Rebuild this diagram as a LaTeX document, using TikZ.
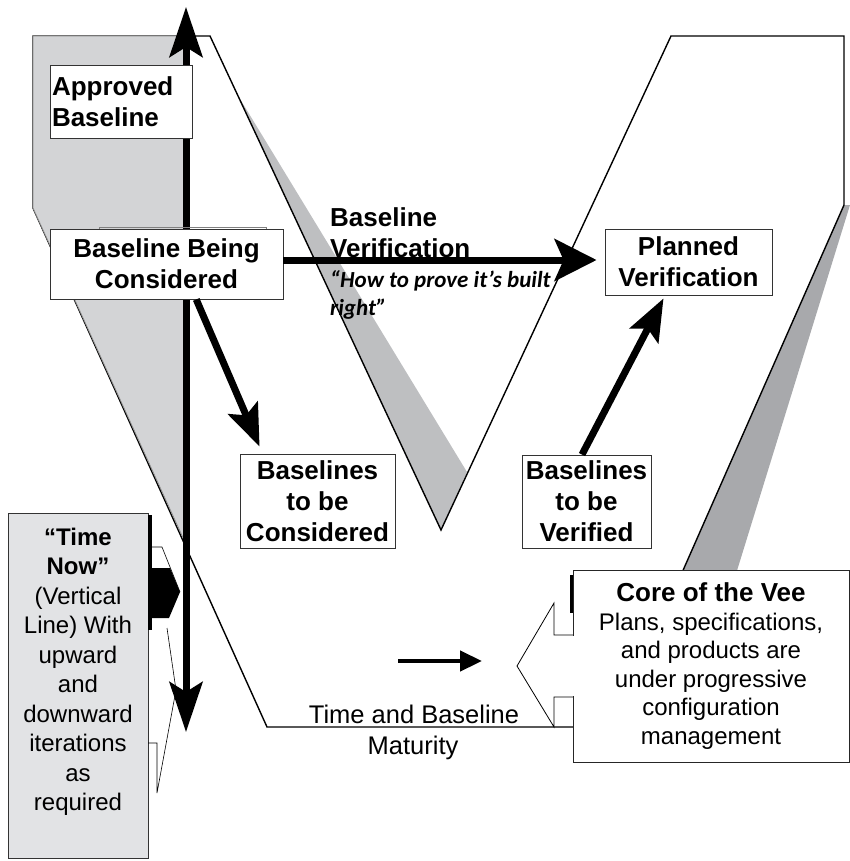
\documentclass[tikz,border=0pt]{standalone}
\usepackage{fontspec}
\setmainfont{Liberation Sans}
\newfontfamily\calfont{Carlito}
\usetikzlibrary{arrows.meta}

\definecolor{leftgray}{RGB}{211,212,214}
\definecolor{stripgray}{RGB}{190,191,193}
\definecolor{shadegray}{RGB}{168,169,172}
\definecolor{boxgray}{RGB}{226,227,229}

\begin{document}
\begin{tikzpicture}[x=1pt,y=-1pt,
  lbl/.style={draw=black!80, line width=0.9pt, fill=white, inner sep=0pt,
    align=center, font=\bfseries\fontsize{26}{31}\selectfont},
  fat/.style={line width=7pt, -{Stealth[length=42pt,width=32pt,inset=8pt]}}]

  \useasboundingbox (0,0) rectangle (850,861);

  % the vee and its shadows
  \fill[white] (33,36) -- (210,36) -- (441,530) -- (671,36) -- (844,36) -- (844,205)
    -- (614,727) -- (267,727) -- (33,208) -- cycle;
  \fill[stripgray] (237,94) -- (467,472) -- (441,530) -- cycle;
  \fill[shadegray] (844,205) -- (850,205) -- (697,700) -- (626,700) -- cycle;
  \draw[line width=1.4pt] (33,36) -- (210,36) -- (441,530) -- (671,36) -- (844,36)
    -- (844,205) -- (614,727) -- (267,727) -- (33,208) -- cycle;
  \filldraw[fill=leftgray, draw=black!45, line width=0.8pt]
    (33,36) -- (184,36) -- (184,540) -- (33,208) -- cycle;

  % time now
  \coordinate (tnTop) at (186,7);
  \coordinate (tnBot) at (186,732);
  \draw[line width=7pt, {Stealth[length=50pt,width=33pt,inset=10pt]}-{Stealth[length=50pt,width=33pt,inset=10pt]}]
    (tnTop) -- (tnBot);

  \node[draw=black!80, fill=boxgray, line width=0.9pt, minimum width=140pt,
    minimum height=345pt, inner sep=0pt] (tnbox) at (78,685.5) {};
  \node[align=center, inner sep=0pt, font=\fontsize{24}{29.5}\selectfont] (tnlbl) at (78,672)
    {\bfseries “Time\\\bfseries Now”\\(Vertical\\Line) With\\upward\\and\\downward\\iterations\\as\\required};
  \fill (148,515) rectangle (152,630);
  \fill (151,568) -- (170,568) -- (180,592) -- (169,618) -- (151,618) -- cycle;
  \draw[line width=0.6pt] (152,547) -- (162,547) -- (180,592);
  \draw[line width=0.6pt] (167,628) -- (176,690) -- (157,793) -- (157,743) -- (148,743);

  % baselines
  \node[lbl, align=left, text width=138pt, inner xsep=2pt, minimum height=73pt] (appr)
    at (121,101.5) {Approved\\Baseline};
  \draw[black!50, line width=0.8pt] (99,297) -- (99,227) -- (266,227) -- (266,297);
  \node[lbl, minimum width=233pt, minimum height=70pt] (consid) at (166.5,264)
    {Baseline Being\\Considered};
  \node[lbl, minimum width=167pt, minimum height=66pt] (plan) at (688.5,262)
    {Planned\\Verification};
  \node[lbl, minimum width=155pt, minimum height=94pt] (tbc) at (317.5,501)
    {Baselines\\to be\\Considered};
  \node[lbl, minimum width=129pt, minimum height=93pt] (tbv) at (586.5,501.5)
    {Baselines\\to be\\Verified};

  \node[anchor=base west, align=left, inner sep=0pt,
    font=\bfseries\fontsize{26}{31}\selectfont] (bvlbl) at (330,257) {Baseline\\Verification};
  \node[anchor=base west, align=left, inner sep=0pt,
    font=\calfont\bfseries\itshape\fontsize{23}{28}\selectfont] (howlbl) at (330,315)
    {“How to prove it’s built\\right”};

  \draw[line width=7pt, -{Stealth[length=42pt,width=42pt,inset=9pt]}]
    ([yshift=4pt]consid.east) -- ([xshift=-8pt,yshift=2pt]plan.west);
  \draw[fat] (consid.-50) -- ([xshift=20pt,yshift=7pt]tbc.north west);
  \draw[fat] ([xshift=-4.5pt]tbv.north) -- ([xshift=-25pt,yshift=-3pt]plan.south);

  % core of the vee
  \node[draw=black!85, fill=white, line width=0.9pt, minimum width=276pt,
    minimum height=192pt, inner sep=0pt, align=center,
    font=\fontsize{24}{28.5}\selectfont] (core) at (711,666)
    {{\bfseries\fontsize{26}{28.5}\selectfont Core of the Vee}\\Plans, specifications,\\and products are\\under progressive\\configuration\\management};
  \fill[white] (571,636) rectangle (575,696);
  \draw[line width=0.8pt] (573,635) -- (554,635) -- (554,603) -- (517,666) -- (554,727)
    -- (554,697) -- (573,697);
  \fill (570,575) rectangle (573,613);

  \node[anchor=base, inner sep=0pt, font=\fontsize{25.5}{30}\selectfont] (timelbl)
    at (414,723) {Time and Baseline};
  \node[anchor=base, inner sep=0pt, font=\fontsize{25.5}{30}\selectfont] (matlbl)
    at (413,754) {Maturity};
  \coordinate (flowA) at (398,661);
  \coordinate (flowB) at (482,661);
  \draw[line width=4.5pt, -{Triangle[length=22pt,width=20pt]}] (flowA) -- (flowB);

\end{tikzpicture}
\end{document}
